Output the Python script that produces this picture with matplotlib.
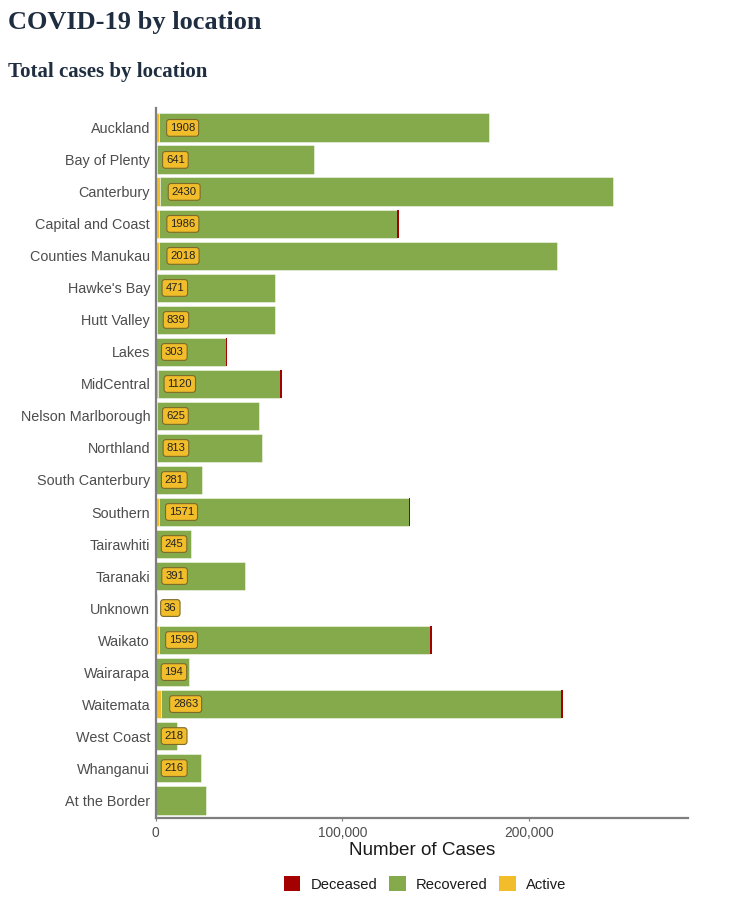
import matplotlib
matplotlib.use("Agg")
import matplotlib.pyplot as plt
from matplotlib.patches import Patch
from matplotlib.ticker import FuncFormatter

locations = ["Auckland", "Bay of Plenty", "Canterbury", "Capital and Coast",
             "Counties Manukau", "Hawke's Bay", "Hutt Valley", "Lakes",
             "MidCentral", "Nelson Marlborough", "Northland", "South Canterbury",
             "Southern", "Tairawhiti", "Taranaki", "Unknown", "Waikato",
             "Wairarapa", "Waitemata", "West Coast", "Whanganui", "At the Border"]
active = [1908, 641, 2430, 1986, 2018, 471, 839, 303, 1120, 625, 813, 281,
          1571, 245, 391, 36, 1599, 194, 2863, 218, 216, 0]
recovered = [176330, 84220, 242330, 127360, 212770, 63360, 62990, 37130,
             65590, 54800, 56220, 24320, 133830, 18480, 47220, 810, 145400,
             17620, 214390, 11180, 23860, 27150]
deceased = [30, 40, 40, 900, 40, 40, 40, 900, 900, 35, 40, 30,
            900, 15, 30, 0, 900, 15, 900, 5, 25, 0]
xticks = [0, 100000, 200000]

C_DEC = "#a50000"
C_REC = "#84aa4c"
C_ACT = "#f2bd2a"

fig = plt.figure(figsize=(7.5, 9.14), dpi=100)
ax = fig.add_axes([0.2076, 0.105, 0.9173 - 0.2076, 0.8818 - 0.105])

y = list(range(len(locations)))
edge = (1, 1, 1, 0.55)
ax.barh(y, active, height=0.9, color=C_ACT, edgecolor=edge, linewidth=0.6)
ax.barh(y, recovered, left=active, height=0.9, color=C_REC, edgecolor=edge, linewidth=0.6)
left2 = [a + r for a, r in zip(active, recovered)]
ax.barh(y, deceased, left=left2, height=0.9, color=C_DEC, edgecolor="none", linewidth=0)

for yi, a in zip(y, active):
    if a > 0:
        ax.text(4400 + 1.7 * a, yi, str(a), ha="left", va="center",
                fontsize=8.1, color="#222222", family="Liberation Sans",
                bbox=dict(boxstyle="round,pad=0.3,rounding_size=0.25",
                          fc=C_ACT, ec="#7d6a2a", lw=0.8))

ax.set_ylim(len(locations) - 0.44, -0.62)
ax.set_xlim(0, 285000)
ax.set_yticks(y)
ax.set_yticklabels(locations, fontsize=10.4, color="#4d4d4d", family="Liberation Sans")
ax.set_xticks(xticks)
ax.xaxis.set_major_formatter(FuncFormatter(lambda v, p: f"{int(v):,}"))
for lab in ax.get_xticklabels():
    lab.set_fontsize(9.9)
    lab.set_color("#4d4d4d")
    lab.set_family("Liberation Sans")
ax.tick_params(axis="x", length=2.5, width=0.8, color="#7f7f7f", pad=3)
ax.tick_params(axis="y", length=0, pad=4)
ax.set_xlabel("Number of Cases", fontsize=13.6, color="#1a1a1a",
              family="Liberation Sans", labelpad=2)
for s in ["top", "right"]:
    ax.spines[s].set_visible(False)
for s in ["left", "bottom"]:
    ax.spines[s].set_color("#7f7f7f")
    ax.spines[s].set_linewidth(1.6)

fig.text(8 / 750, 1 - 23 / 914, "COVID-19 by location", fontsize=19,
         fontweight="bold", family="Liberation Serif", color="#1e2d40",
         ha="left", va="center")
fig.text(8 / 750, 1 - 72 / 914, "Total cases by location", fontsize=15,
         fontweight="bold", family="Liberation Serif", color="#1e2d40",
         ha="left", va="center")

handles = [Patch(facecolor=C_DEC, edgecolor="none", label="Deceased"),
           Patch(facecolor=C_REC, edgecolor="none", label="Recovered"),
           Patch(facecolor=C_ACT, edgecolor="none", label="Active")]
leg = fig.legend(handles=handles, loc="center", bbox_to_anchor=(0.567, 1 - 884 / 914),
                 ncol=3, frameon=False, handlelength=1.1, handleheight=1.1,
                 handletextpad=0.7, columnspacing=0.8,
                 prop={"family": "Liberation Sans", "size": 10.6})
for t in leg.get_texts():
    t.set_color("#1a1a1a")

fig.savefig("out.png", dpi=100)
